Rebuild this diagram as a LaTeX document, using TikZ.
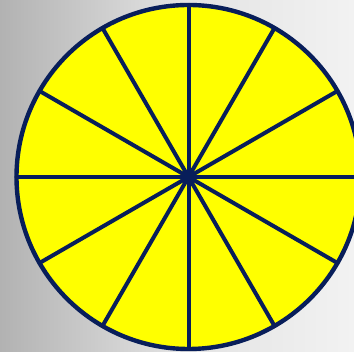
\documentclass[tikz,border=0pt]{standalone}
\usetikzlibrary{calc}
\definecolor{navy}{RGB}{8,30,90}
\definecolor{bgleft}{RGB}{178,178,178}
\definecolor{bgright}{RGB}{242,242,242}
\definecolor{pieyellow}{RGB}{255,255,0}
\tikzset{spoke/.style={draw=navy,line width=4pt,line cap=round}}
\begin{document}
\begin{tikzpicture}[x=1pt,y=-1pt]
\useasboundingbox (0,0) rectangle (354,352);
\clip (0,0) rectangle (354,352);
\shade[left color=bgleft,right color=bgright,middle color=bgright!75!bgleft] (0,0) rectangle (354,352);
\coordinate (c) at (188.5,177);
\fill[pieyellow] (c) circle[radius=172];
\foreach \a in {0,30,...,150} {
  \draw[spoke] ($(c)+(\a:172)$) -- ($(c)+(\a+180:172)$);
}
\fill[navy] (c) circle[radius=5.5];
\draw[draw=navy,line width=4.4pt] (c) circle[radius=172];
\end{tikzpicture}
\end{document}
